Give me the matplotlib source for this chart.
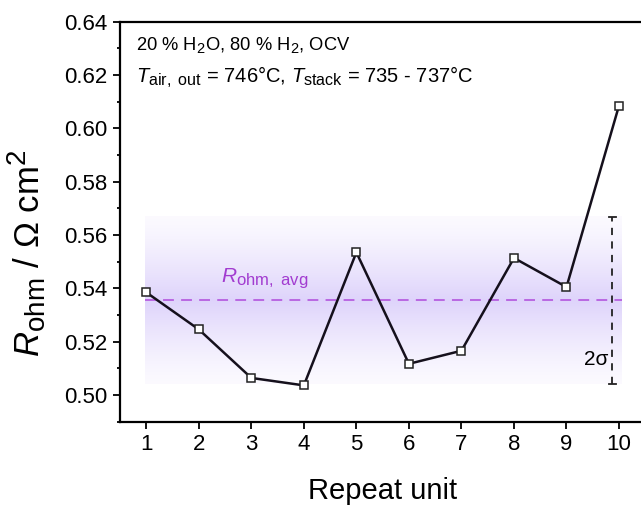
import numpy as np
import matplotlib
matplotlib.use("Agg")
import matplotlib.pyplot as plt
import matplotlib._mathtext as mt
from matplotlib.ticker import MultipleLocator, FormatStrFormatter

# ohmic resistance per repeat unit
repeat_unit = [1, 2, 3, 4, 5, 6, 7, 8, 9, 10]
r_ohm = [0.5385, 0.5246, 0.5064, 0.5036, 0.5535, 0.5117, 0.5166, 0.5514, 0.5405, 0.6086]

line1 = "20 % H$_2$O, 80 % H$_2$, OCV"
line2 = r"$T_{\mathrm{air,\ out}}$ = 746°C, $T_{\mathrm{stack}}$ = 735 - 737°C"

plt.rcParams['font.family'] = ['Liberation Sans', 'DejaVu Sans']
plt.rcParams['mathtext.fontset'] = 'custom'
plt.rcParams['mathtext.rm'] = 'Liberation Sans'
plt.rcParams['mathtext.it'] = 'Liberation Sans:italic'
plt.rcParams['mathtext.bf'] = 'Liberation Sans:bold'
# origin-style sub/superscripts are bigger than mathtext default
mt.SHRINK_FACTOR = 0.8

r_avg = np.mean(r_ohm)
sigma = np.std(r_ohm, ddof=1)

fig = plt.figure(figsize=(6.41, 5.08), dpi=100)
ax = fig.add_axes([0.1872, 0.170, 0.8195, 0.787])

# gradient band for avg +- sigma
t = np.linspace(-1, 1, 200)
alpha = 0.04 + 0.30 * (1 - np.abs(t)) ** 1.3
rgba = np.zeros((200, 1, 4))
rgba[..., 0] = 0.62
rgba[..., 1] = 0.50
rgba[..., 2] = 0.96
rgba[..., 3] = alpha[:, None]
ax.imshow(rgba, extent=[0.97, 10.05, r_avg - sigma, r_avg + sigma],
          aspect='auto', origin='lower', zorder=0, interpolation='bilinear')

ax.plot([0.97, 10.05], [r_avg, r_avg], color='#b75fe0', lw=1.3,
        dashes=(6, 4), zorder=2)
ax.text(2.42, r_avg + 0.0035, r"$R_{\mathrm{ohm,\ avg}}$", color='#a23cd0',
        fontsize=15, va='bottom', ha='left')

ax.plot(repeat_unit, r_ohm, color='#15101c', lw=1.8, marker='s', ms=6,
        mfc='white', mec='#222222', mew=1.1, zorder=3)

# 2 sigma bar
xs = 9.87
ax.plot([xs, xs], [r_avg - sigma, r_avg + sigma], color='#222222', lw=1.3,
        dashes=(4, 3.5))
ax.plot([xs - 0.07, xs + 0.07], [r_avg + sigma] * 2, color='#222222', lw=1.3)
ax.plot([xs - 0.07, xs + 0.07], [r_avg - sigma] * 2, color='#222222', lw=1.3)
ax.text(xs - 0.08, 0.5133, "2σ", fontsize=15, ha='right', va='center')

ax.text(0.03, 0.929, line1, transform=ax.transAxes, fontsize=13.2, va='baseline')
ax.text(0.03, 0.850, line2, transform=ax.transAxes, fontsize=14.5, va='baseline')

ax.set_xlim(0.5, 10.5)
ax.set_ylim(0.49, 0.64)
ax.set_xticks(repeat_unit)
ax.yaxis.set_major_locator(MultipleLocator(0.02))
ax.yaxis.set_minor_locator(MultipleLocator(0.01))
ax.yaxis.set_major_formatter(FormatStrFormatter('%.2f'))
ax.tick_params(axis='both', which='major', direction='out', length=5, width=1.3,
               labelsize=16, pad=4)
ax.tick_params(axis='y', which='minor', direction='out', length=2.5, width=1.3)
for s in ['left', 'bottom', 'top']:
    ax.spines[s].set_linewidth(1.6)
ax.spines['right'].set_visible(False)

ax.set_xlabel("Repeat unit", fontsize=21, labelpad=16)
ax.set_ylabel(r"$R_{\mathrm{ohm}}$ / Ω cm$^2$", fontsize=25)
ax.yaxis.set_label_coords(-0.137, 0.42)

fig.savefig("out.png", dpi=100)
